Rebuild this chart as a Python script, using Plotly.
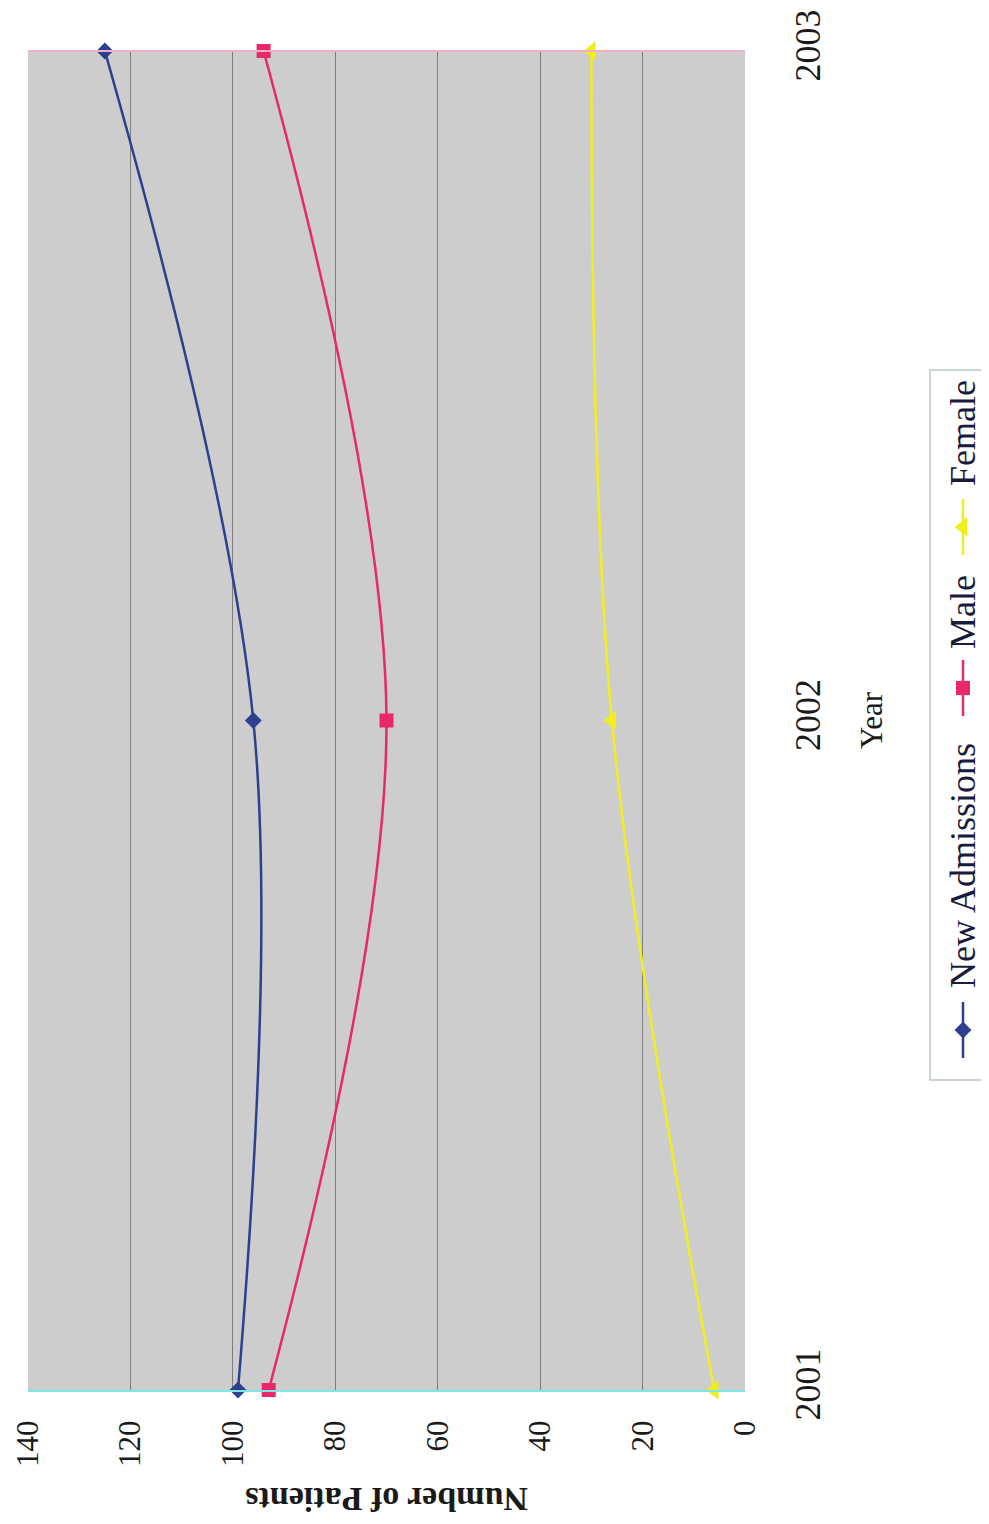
import plotly.graph_objects as go

years = [2001, 2002, 2003]
new_admissions = [99, 96, 125]
male = [93, 70, 94]
female = [6, 26, 30]
value_ticks = [0, 20, 40, 60, 80, 100, 120, 140]
series_names = ["New Admissions", "Male", "Female"]
series_colors = ["#2f3f8f", "#e8286a", "#f0ee1e"]
series_symbols = ["diamond", "square", "triangle-left"]
series_sizes = [13, 14, 17]

# page has an 8px body margin; layout positions are given in page pixels
OFF = 8
W, H = 989 - OFF, 1524 - OFF
plot_left_px, plot_right_px = 28, 745
plot_top_px, plot_bottom_px = 51, 1390
legend_left_px, legend_right_px = 930, 988
legend_top_px, legend_bottom_px = 370, 1080

ML = plot_left_px - OFF
MT = plot_top_px - OFF
MB = H - (plot_bottom_px - OFF)
MR = 1
paper_w = W - ML - MR
plot_h = H - MT - MB

def px_to_paper(px):
    return (px - plot_left_px) / paper_w

def py_to_paper(py):
    return (plot_bottom_px - py) / plot_h

fig = go.Figure()

for name, vals, col, sym, sz in zip(series_names, [new_admissions, male, female],
                                     series_colors, series_symbols, series_sizes):
    fig.add_trace(go.Scatter(
        x=vals, y=years, mode="lines+markers", name=name,
        line=dict(color=col, width=2.5, shape="spline", smoothing=1.0),
        marker=dict(symbol=sym, size=sz, color=col),
        cliponaxis=False, showlegend=False,
        xaxis="x", yaxis="y",
    ))

# legend built on its own small axes (text rotated like the reference)
legend_marker_y = [1030, 688, 527]
legend_text_y = [866, 612, 433]
for name, col, sym, sz, my, ty in zip(series_names, series_colors, series_symbols,
                                      series_sizes, legend_marker_y, legend_text_y):
    fig.add_trace(go.Scatter(
        x=[963, 963], y=[my - 28, my + 28], mode="lines",
        line=dict(color=col, width=2.5), showlegend=False,
        xaxis="x2", yaxis="y2", hoverinfo="skip",
    ))
    fig.add_trace(go.Scatter(
        x=[963], y=[my], mode="markers",
        marker=dict(symbol=sym, size=sz, color=col), showlegend=False,
        xaxis="x2", yaxis="y2", hoverinfo="skip",
    ))
    fig.add_annotation(x=963, y=ty, xref="x2", yref="y2", text=name,
                       textangle=-90, showarrow=False,
                       xanchor="center", yanchor="middle",
                       font=dict(family="Liberation Serif", size=36, color="#1a1a3a"))

main_dom_end = px_to_paper(plot_right_px)
fig.update_layout(
    width=W, height=H,
    margin=dict(l=ML, r=MR, t=MT, b=MB, autoexpand=False),
    paper_bgcolor="white",
    plot_bgcolor="white",
    font=dict(family="Liberation Serif", color="#1a1a1a"),
    xaxis=dict(
        domain=[0, main_dom_end], range=[140, 0], automargin=False,
        tickvals=value_ticks, ticktext=[str(v) for v in value_ticks],
        tickangle=-90, tickfont=dict(size=31, family="Liberation Serif"),
        ticklabelstandoff=16,
        showgrid=True, gridcolor="#7d7d7d", gridwidth=1,
        zeroline=False, showline=True, linecolor="#7fe6e6", linewidth=2,
        ticks="",
    ),
    yaxis=dict(
        domain=[0, 1], range=[2001, 2003], anchor="x", side="right", automargin=False,
        tickvals=years, ticktext=[str(y) for y in years],
        tickangle=-90, tickfont=dict(size=36, family="Liberation Serif"),
        ticklabelstandoff=38,
        showgrid=False, zeroline=False, showline=False, ticks="",
    ),
    xaxis2=dict(
        domain=[px_to_paper(legend_left_px), px_to_paper(legend_right_px)],
        range=[legend_left_px, legend_right_px], visible=False, anchor="y2",
    ),
    yaxis2=dict(
        domain=[py_to_paper(legend_bottom_px), py_to_paper(legend_top_px)],
        range=[legend_bottom_px, legend_top_px], visible=False, anchor="x2",
    ),
    shapes=[
        dict(type="rect", xref="x domain", yref="y domain", x0=0, x1=1, y0=0, y1=1,
             fillcolor="#cdcdcd", line=dict(width=0), layer="below"),
        dict(type="line", xref="x domain", yref="y domain", x0=0, x1=1, y0=1, y1=1,
             line=dict(color="#f2b0c8", width=2)),
        dict(type="rect", xref="x2 domain", yref="y2 domain", x0=0, x1=1, y0=0, y1=1,
             line=dict(color="#b8c8c8", width=1.5), fillcolor="rgba(0,0,0,0)"),
    ],
)

fig.add_annotation(text="Year", x=px_to_paper(871), y=py_to_paper(720),
                   xref="paper", yref="paper", textangle=-90, showarrow=False,
                   xanchor="center", yanchor="middle",
                   font=dict(family="Liberation Serif", size=31, color="#1a1a1a"))
fig.add_annotation(text="<b>Number of Patients</b>", x=main_dom_end / 2, y=py_to_paper(1500),
                   xref="paper", yref="paper", textangle=180, showarrow=False,
                   xanchor="center", yanchor="middle",
                   font=dict(family="Liberation Serif", size=34, color="#1a1a1a"))

fig.write_html("out.html")
